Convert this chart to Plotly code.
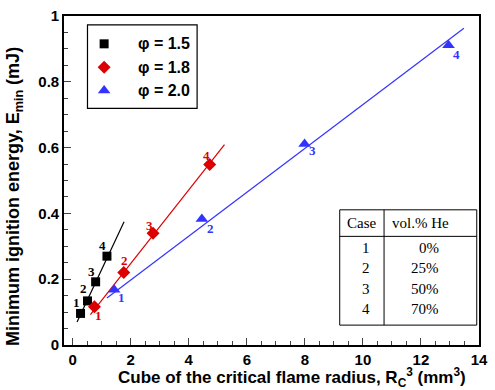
import plotly.graph_objects as go

# ---- data ----
x15 = [0.27, 0.51, 0.79, 1.18]
y15 = [0.096, 0.134, 0.192, 0.270]
x18 = [0.75, 1.76, 2.77, 4.72]
y18 = [0.116, 0.220, 0.340, 0.549]
x20 = [1.43, 4.45, 7.99, 12.95]
y20 = [0.168, 0.383, 0.611, 0.911]
fit15_x = [0.15, 1.77]
fit15_y = [0.070, 0.375]
fit18_x = [0.61, 5.23]
fit18_y = [0.092, 0.609]
fit20_x = [1.18, 13.48]
fit20_y = [0.143, 0.963]
series_names = ["φ = 1.5", "φ = 1.8", "φ = 2.0"]
case_labels = ["1", "2", "3", "4"]
he_pct = ["0%", "25%", "50%", "70%"]
x_ticks = [0, 2, 4, 6, 8, 10, 12, 14]
y_ticks = [0, 0.2, 0.4, 0.6, 0.8, 1]
y_ticktext = ["0", "0.2", "0.4", "0.6", "0.8", "1"]

BLACK = "#000000"
RED = "#dd0000"
BLUE = "#3333ff"

W, H = 495, 390
L, R, T, B = 64, 488, 14, 345

def px(x):
    return (x - L) / (R - L)

def py(y):
    return 1 - (y - T) / (B - T)

fig = go.Figure()
fig.add_trace(go.Scatter(x=fit15_x, y=fit15_y, mode="lines", line=dict(color=BLACK, width=1.2), showlegend=False))
fig.add_trace(go.Scatter(x=fit18_x, y=fit18_y, mode="lines", line=dict(color=RED, width=1.2), showlegend=False))
fig.add_trace(go.Scatter(x=fit20_x, y=fit20_y, mode="lines", line=dict(color=BLUE, width=1.2), showlegend=False))
fig.add_trace(go.Scatter(x=x15, y=y15, mode="markers", name=series_names[0], showlegend=False,
                         marker=dict(symbol="square", size=9, color=BLACK)))
fig.add_trace(go.Scatter(x=x18, y=y18, mode="markers", name=series_names[1], showlegend=False,
                         marker=dict(symbol="diamond", size=10, color=RED)))
fig.add_trace(go.Scatter(x=x20, y=y20, mode="markers", name=series_names[2], showlegend=False,
                         marker=dict(symbol="triangle-up", size=11, color=BLUE)))

# manual legend on a pixel-coordinate overlay axis
leg_rows = [42, 65.5, 89]
leg_sym = ["square", "diamond", "triangle-up"]
leg_size = [9, 10, 11]
leg_col = [BLACK, RED, BLUE]
for i in range(3):
    fig.add_trace(go.Scatter(x=[105], y=[leg_rows[i]], mode="markers", xaxis="x2", yaxis="y2",
                             showlegend=False, hoverinfo="skip", opacity=1,
                             marker=dict(symbol=leg_sym[i], size=leg_size[i], color=leg_col[i],
                                         line=dict(width=0), opacity=1)))

ann = []
for i in range(3):
    ann.append(dict(x=138, y=leg_rows[i], xref="x2", yref="y2", text="<b>%s</b>" % series_names[i],
                    showarrow=False, xanchor="left", yanchor="middle",
                    font=dict(family="Arial", size=16, color="black")))

lab_font = "Liberation Serif"
off15 = [(-4, 11), (-4, 12), (-4, 10), (-4, 11)]
off18 = [(4, -9), (1, 12), (-4, 8), (-3, 9)]
off20 = [(7, -8), (9, -10), (8, -7), (8, -9)]
for xs, ys, offs, col in [(x15, y15, off15, BLACK), (x18, y18, off18, RED), (x20, y20, off20, BLUE)]:
    for i in range(4):
        ann.append(dict(x=xs[i], y=ys[i], xref="x", yref="y", text="<b>%s</b>" % case_labels[i],
                        showarrow=False, xshift=offs[i][0], yshift=offs[i][1],
                        xanchor="center", yanchor="middle",
                        font=dict(family=lab_font, size=13, color=col)))

# axis titles as annotations (paper coordinates from pixel positions)
ann.append(dict(x=px(297), y=py(378), xref="paper", yref="paper", showarrow=False,
                xanchor="center", yanchor="middle",
                text="<b>Cube of the critical flame radius, R<sub>C</sub><sup>3</sup> (mm<sup>3</sup>)</b>",
                font=dict(family="Arial", size=17, color="black")))
ann.append(dict(x=px(14), y=py(196), xref="paper", yref="paper", showarrow=False,
                xanchor="center", yanchor="middle", textangle=-90,
                text="<b>Minimum ignition energy, E<sub>min</sub> (mJ)</b>",
                font=dict(family="Arial", size=18, color="black")))

# table
tL, tR, tT, tB = 345.7, 485.7, 209, 325
tD, tH = 391, 235.7
shapes = [
    dict(type="rect", xref="x2", yref="y2", x0=88, x1=200, y0=23, y1=107,
         line=dict(color="black", width=1.2), fillcolor="rgba(0,0,0,0)", layer="above"),
    dict(type="rect", xref="x2", yref="y2", x0=tL, x1=tR, y0=tT, y1=tB,
         line=dict(color="black", width=1), fillcolor="white", layer="above"),
    dict(type="line", xref="x2", yref="y2", x0=tD, x1=tD, y0=tT, y1=tB,
         line=dict(color="black", width=1)),
    dict(type="line", xref="x2", yref="y2", x0=tL, x1=tR, y0=tH, y1=tH,
         line=dict(color="black", width=1)),
]
tfont = dict(family=lab_font, size=15, color="black")
ann.append(dict(x=368.5, y=222, xref="x2", yref="y2", text="Case", showarrow=False,
                xanchor="center", yanchor="middle", font=tfont))
ann.append(dict(x=428, y=222, xref="x2", yref="y2", text="vol.% He", showarrow=False,
                xanchor="center", yanchor="middle", font=tfont))
rows_y = [247.7, 268, 288.5, 309]
for i in range(4):
    ann.append(dict(x=373, y=rows_y[i], xref="x2", yref="y2", text=case_labels[i],
                    showarrow=False, xanchor="center", yanchor="middle", font=tfont))
    ann.append(dict(x=449, y=rows_y[i], xref="x2", yref="y2", text=he_pct[i],
                    showarrow=False, font=tfont, xanchor="right", yanchor="middle"))

tickf = dict(family="Arial", size=15, color="black")
fig.update_layout(
    width=W, height=H,
    margin=dict(l=L, r=W - R, t=T, b=H - B),
    paper_bgcolor="white", plot_bgcolor="white",
    font=dict(family="Arial", color="black"),
    showlegend=False,
    xaxis=dict(range=[-0.3, 14], tickvals=x_ticks, ticktext=["<b>%d</b>" % v for v in x_ticks],
               ticks="inside", ticklen=7, tickwidth=1.2,
               minor=dict(dtick=0.5, tick0=0, ticks="inside", ticklen=4, tickwidth=1),
               showline=True, linecolor="black", linewidth=1.6, mirror=True,
               showgrid=False, zeroline=False, tickfont=tickf),
    yaxis=dict(range=[0, 1], tickvals=y_ticks, ticktext=["<b>%s</b>" % t for t in y_ticktext],
               ticks="inside", ticklen=7, tickwidth=1.2,
               minor=dict(dtick=0.05, ticks="inside", ticklen=4, tickwidth=1),
               showline=True, linecolor="black", linewidth=1.6, mirror=True,
               showgrid=False, zeroline=False, tickfont=tickf),
    xaxis2=dict(overlaying="x", anchor="y2", range=[L, R], visible=False, fixedrange=True),
    yaxis2=dict(overlaying="y", anchor="x2", range=[B, T], visible=False, fixedrange=True),
    annotations=ann, shapes=shapes,
)
fig.write_html("out.html")
